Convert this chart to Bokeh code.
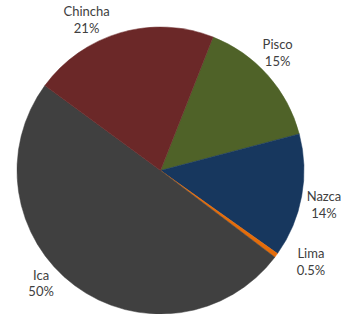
import math
from bokeh.plotting import figure
from bokeh.models import ColumnDataSource, Range1d
from bokeh.core.properties import value
from bokeh.embed import file_html
from bokeh.resources import INLINE

# data
regions = ["Pisco", "Nazca", "Lima", "Ica", "Chincha"]
shares = [15, 14, 0.5, 50, 21]
share_labels = ["15%", "14%", "0.5%", "50%", "21%"]
colors = ["#4f6228", "#17375e", "#e46c0a", "#404040", "#6b2828"]

# layout
W, H = 346, 314
cx, cy, R = 160, 144, 143.5
start_deg = 21.5          # clockwise from 12 o'clock
label_r = 166
label_nudge = [-3.5, 1.5, -5, 10, -10]   # degrees, label placement tweak
label_pad = [0, 1, 10, -2, 2]            # extra label distance

total = sum(shares)
starts, ends, lx, ly, texts = [], [], [], [], []
t = start_deg
for i, v in enumerate(shares):
    t0 = t
    t1 = t + v / total * 360.0
    starts.append(math.radians(90 - t0))
    ends.append(math.radians(90 - t1))
    mid = (t0 + t1) / 2 + label_nudge[i]
    rr = label_r + label_pad[i]
    lx.append(cx + rr * math.sin(math.radians(mid)))
    ly.append(cy + rr * math.cos(math.radians(mid)))
    texts.append(f"{regions[i]}\n{share_labels[i]}")
    t = t1

src = ColumnDataSource(dict(start=starts, end=ends, color=colors,
                            x=[cx] * len(shares), y=[cy] * len(shares)))
lab = ColumnDataSource(dict(x=lx, y=ly, text=texts))

p = figure(width=W, height=H, output_backend="svg", toolbar_location=None,
           x_range=Range1d(0, W), y_range=Range1d(0, H),
           x_axis_location=None, y_axis_location=None, min_border=0)
p.outline_line_color = None
p.grid.visible = False
p.background_fill_color = "white"
p.border_fill_color = "white"

p.wedge(x="x", y="y", radius=R, start_angle="start", end_angle="end",
        direction="clock", fill_color="color", line_color="color",
        line_width=0.5, source=src)

p.text(x="x", y="y", text="text", source=lab, text_align="center",
       text_baseline="middle", text_font=value("Lato"),
       text_font_size="13px", text_color="#404040", text_line_height=1.05)

open("out.html", "w").write(file_html(p, INLINE))
